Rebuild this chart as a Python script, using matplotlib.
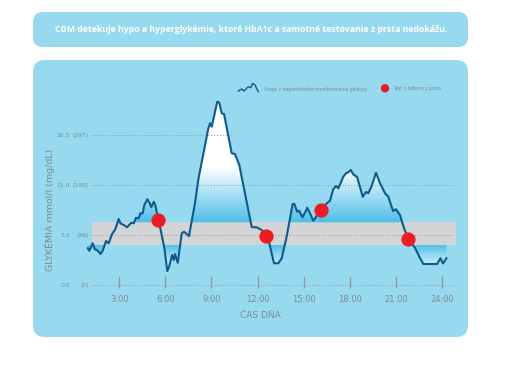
import numpy as np
import matplotlib
matplotlib.use("Agg")
import matplotlib.pyplot as plt
from matplotlib.patches import FancyBboxPatch, PathPatch, Circle
from matplotlib.path import Path
from matplotlib.colors import LinearSegmentedColormap

# CGM trace: hour of day vs glucose (mmol/l)
hours = [0.96, 1.06, 1.28, 1.41, 1.56, 1.67, 1.78, 1.93, 2.15, 2.32, 2.54, 2.75, 2.97, 3.08,
         3.30, 3.51, 3.79, 3.95, 4.10, 4.27, 4.38, 4.53, 4.64, 4.83, 4.99, 5.09, 5.25, 5.35,
         5.46, 5.61, 5.79, 5.94, 6.13, 6.26, 6.44, 6.55, 6.63, 6.81, 7.07, 7.22, 7.54, 7.93,
         8.15, 8.80, 8.91, 9.02, 9.38, 9.51, 9.67, 9.82, 10.32, 10.53, 10.81, 11.62, 11.96,
         12.27, 12.55, 12.74, 13.07, 13.35, 13.57, 13.89, 14.28, 14.39, 14.58, 14.71, 14.91,
         15.08, 15.23, 15.41, 15.62, 16.12, 16.50, 16.71, 16.92, 17.10, 17.25, 17.41, 17.57,
         17.75, 17.90, 18.06, 18.22, 18.47, 18.84, 19.05, 19.20, 19.42, 19.70, 19.96, 20.29,
         20.50, 20.81, 21.00, 21.26, 21.52, 21.80, 22.24, 22.56, 22.78, 23.67, 23.89, 24.06,
         24.28]
glucose = [4.04, 3.77, 4.59, 3.93, 3.85, 3.66, 3.41, 3.77, 4.84, 4.59, 5.61, 6.13, 7.26, 6.79,
           6.60, 6.35, 6.85, 6.79, 7.40, 7.34, 7.89, 7.89, 8.80, 9.43, 8.99, 8.55, 9.16, 8.80,
           7.89, 6.79, 5.31, 4.04, 1.54, 2.09, 3.30, 2.75, 3.41, 2.45, 5.69, 5.86, 5.39, 8.99,
           11.63, 17.24, 17.79, 17.41, 20.17, 20.06, 18.89, 18.81, 14.49, 14.41, 13.20, 6.38,
           6.33, 6.05, 5.39, 4.76, 2.39, 2.39, 2.94, 5.31, 8.91, 8.91, 8.06, 8.17, 7.45, 7.95,
           8.50, 7.89, 7.07, 8.25, 8.99, 9.27, 10.53, 10.89, 10.64, 11.25, 11.91, 12.29, 12.40,
           12.65, 12.18, 11.88, 9.71, 10.23, 10.09, 10.89, 12.35, 11.19, 10.09, 9.71, 8.14,
           8.33, 7.70, 6.27, 5.06, 4.07, 2.97, 2.31, 2.31, 2.94, 2.37, 2.94]

# finger-stick tests
test_hours = [5.51, 12.55, 16.12, 21.80]
test_glucose = [7.12, 5.39, 8.25, 5.06]

target_low, target_high = 4.4, 6.9
band_start, band_end = 1.25, 24.9

ytick_mmol = ["16.5", "11.0", "5.5", "0.0"]
ytick_mg = ["(297)", "(198)", "(99)", "(0)"]
ytick_vals = [16.5, 11.0, 5.5, 0.0]
grid_ends = [10.4, 24.7, 24.7, 24.85]
xtick_vals = [3, 6, 9, 12, 15, 18, 21, 24]
xtick_labels = ["3:00", "6:00", "9:00", "12:00", "15:00", "18:00", "21:00", "24:00"]

title = "CGM detekuje hypo a hyperglykémie, ktoré HbA1c a samotné testovanie z prsta nedokážu."
legend_cgm = "Údaje z nepretržitého monitorovania glukózy"
legend_test = "Test z odberu z prsta"

panel = "#97d9ee"
line_col = "#0d5a8c"
red = "#ec1c24"
grey_txt = "#7d8a90"
dot_col = "#8a979d"

fig = plt.figure(figsize=(5.14, 3.67), dpi=100)
fig.patch.set_facecolor("white")

# background layer in pixel units
bg = fig.add_axes([0, 0, 1, 1])
bg.set_xlim(0, 514)
bg.set_ylim(367, 0)
bg.axis("off")
bg.add_patch(FancyBboxPatch((33, 12), 435, 35, boxstyle="round,pad=0,rounding_size=10",
                            fc=panel, ec="none"))
bg.add_patch(FancyBboxPatch((33, 60), 435, 277, boxstyle="round,pad=0,rounding_size=12",
                            fc=panel, ec="none"))
bg.text(251, 30, title, color="white", fontsize=6.3, fontweight="bold",
        ha="center", va="center", family="Open Sans")

# legend
bg.plot([238.3, 241.7, 244, 248.3, 250.7, 252.7, 255, 258.3],
        [91, 89, 91, 86.7, 87.7, 83.3, 85, 91.7], color=line_col, lw=1.0)
bg.text(264, 89, legend_cgm, fontsize=3.3, color=grey_txt, va="center", ha="left")
bg.add_patch(Circle((385, 88.3), 4.2, fc=red, ec="none"))
bg.text(393, 88.5, legend_test, fontsize=3.3, color=grey_txt, va="center", ha="left")

bg.text(50, 210, "GLYKÉMIA mmol/l (mg/dL)", rotation=90, fontsize=6.8, color=grey_txt,
        ha="center", va="center")
bg.text(260, 316, "ČAS DŇA", fontsize=6.5, color=grey_txt, ha="center", va="center")

# data axes
x0, x1, y0, y1 = 0.5, 25.5, -1.0, 21.0
ax = fig.add_axes([80.7 / 514, 1 - 294.1 / 367, 384.5 / 514, 200 / 367])
ax.set_facecolor("none")
ax.axis("off")

x = np.array(hours)
y = np.array(glucose)

ax.fill_between([band_start, band_end], target_low, target_high, color="#d3d4d6",
                lw=0, zorder=1)

for v, end in zip(ytick_vals, grid_ends):
    ax.plot([1.17, end], [v, v], ls=(0, (1, 2)), color=dot_col, lw=0.7, zorder=2)

for t, lab in zip(xtick_vals, xtick_labels):
    ax.plot([t, t], [-0.22, 0.88], color="#8f9ca3", lw=1.0, zorder=2)
    ax.text(t, -1.55, lab, ha="center", va="center", fontsize=6, color=grey_txt)

for v, a, b in zip(ytick_vals, ytick_mmol, ytick_mg):
    ax.text(-0.2, v, a, ha="right", va="center", fontsize=4.3, color=grey_txt)
    ax.text(1.04, v, b, ha="right", va="center", fontsize=4.3, color=grey_txt)

# gradient fills outside the target band
hi = ax.fill_between(x, y, target_high, where=y > target_high, interpolate=True,
                     color="none", lw=0)
lo = ax.fill_between(x, y, target_low, where=y < target_low, interpolate=True,
                     color="none", lw=0)

grid_y = np.linspace(y0, y1, 400)
fill_cmap = LinearSegmentedColormap.from_list("fill", ["#4fbfe8", "#ffffff"])
t_hi = np.clip((grid_y - target_high) / 6.0, 0, 1)
t_lo = np.clip((target_low - grid_y) / 3.0, 0, 1)

for coll, tval in [(hi, t_hi), (lo, t_lo)]:
    img = ax.imshow(tval[:, None], extent=[x0, x1, y0, y1], origin="lower",
                    aspect="auto", cmap=fill_cmap, vmin=0, vmax=1, zorder=1.5)
    path = Path.make_compound_path(*coll.get_paths())
    patch = PathPatch(path, transform=ax.transData, fc="none", ec="none")
    ax.add_patch(patch)
    img.set_clip_path(patch)

ax.plot(x, y, color=line_col, lw=1.5, zorder=3, solid_joinstyle="round")
ax.scatter(test_hours, test_glucose, s=105, color=red, zorder=4, lw=0)

ax.set_xlim(x0, x1)
ax.set_ylim(y0, y1)

fig.savefig("out.png", dpi=100)
